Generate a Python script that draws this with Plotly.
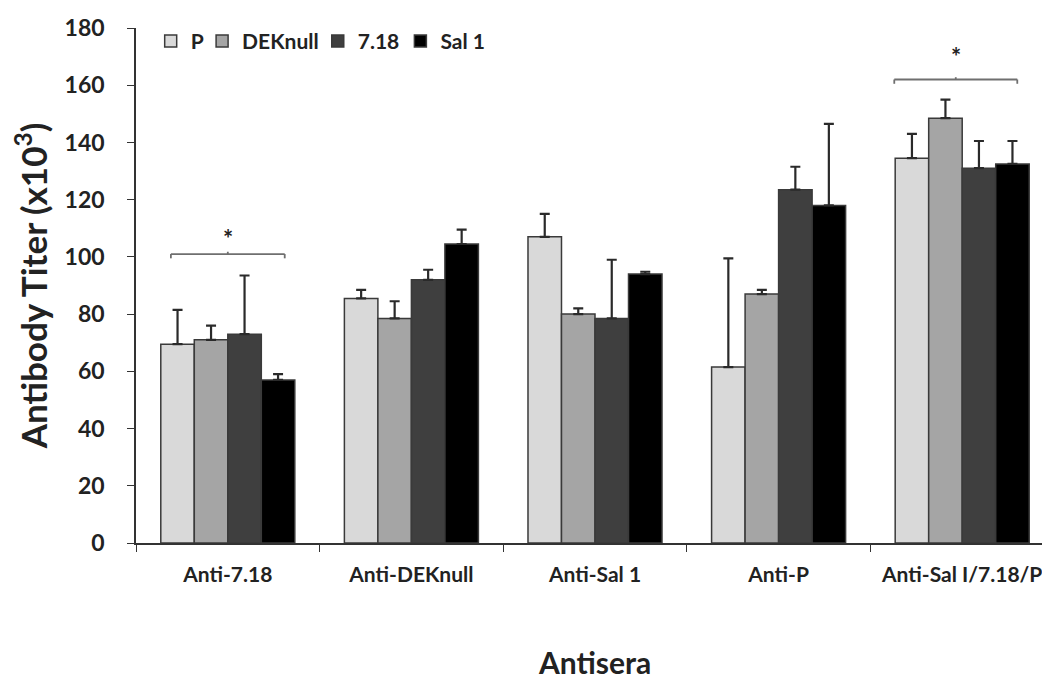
import plotly.graph_objects as go

categories = ["Anti-7.18", "Anti-DEKnull", "Anti-Sal 1", "Anti-P", "Anti-Sal I/7.18/P"]
series_names = ["P", "DEKnull", "7.18", "Sal 1"]
p_vals = [69.5, 85.5, 107, 61.5, 134.5]
p_err = [12, 3, 8, 38, 8.5]
dek_vals = [71, 78.5, 80, 87, 148.5]
dek_err = [5, 6, 2, 1.5, 6.5]
t718_vals = [73, 92, 78.5, 123.5, 131]
t718_err = [20.5, 3.5, 20.5, 8, 9.5]
sal_vals = [57, 104.5, 94, 118, 132.5]
sal_err = [2, 5, 0.8, 28.5, 8]
colors = ["#d9d9d9", "#a5a5a5", "#3f3f3f", "#000000"]

sig_groups = [0, 4]
sig_left = [-0.31, -0.37]
sig_right = [0.31, 0.30]
sig_y = [101, 162]
sig_star_y = [106.5, 170]

values = [p_vals, dek_vals, t718_vals, sal_vals]
errors = [p_err, dek_err, t718_err, sal_err]

font_family = "Lato, 'Open Sans', sans-serif"
legend_x = [0.016, 0.072, 0.198, 0.288]

fig = go.Figure()
for i, (name, vals, errs, col) in enumerate(zip(series_names, values, errors, colors)):
    fig.add_trace(go.Bar(
        name=name, x=categories, y=vals, showlegend=True,
        legend="legend" if i == 0 else f"legend{i + 1}",
        marker=dict(color=col, line=dict(color="#3a3a3a", width=1.5)),
        error_y=dict(type="data", symmetric=False, array=errs,
                     arrayminus=[0] * len(errs), color="#2a2a2a",
                     thickness=2.2, width=5),
    ))

shapes = []
annotations = []
for g, l, r, y, sy in zip(sig_groups, sig_left, sig_right, sig_y, sig_star_y):
    x0, x1 = g + l, g + r
    xm = (x0 + x1) / 2
    line = dict(color="#6f6f6f", width=1.8)
    shapes.append(dict(type="line", xref="x", yref="y", x0=x0, x1=x1, y0=y, y1=y, line=line))
    shapes.append(dict(type="line", xref="x", yref="y", x0=x0, x1=x0, y0=y, y1=y - 1.5, line=line))
    shapes.append(dict(type="line", xref="x", yref="y", x0=x1, x1=x1, y0=y, y1=y - 1.5, line=line))
    shapes.append(dict(type="line", xref="x", yref="y", x0=xm, x1=xm, y0=y, y1=y + 0.8, line=line))
    annotations.append(dict(x=xm, y=sy, xref="x", yref="y", text="<b>*</b>", showarrow=False,
                            font=dict(size=24, color="#222", family=font_family)))

legends = {}
for i, lx in enumerate(legend_x):
    key = "legend" if i == 0 else f"legend{i + 1}"
    legends[key] = dict(x=lx, y=0.974, xanchor="left", yanchor="middle",
                        orientation="h", itemwidth=30, visible=True,
                        font=dict(size=21, family=font_family, weight="bold"),
                        bgcolor="rgba(0,0,0,0)")

fig.update_layout(
    barmode="group", bargap=0.27, bargroupgap=0,
    width=1050, height=688, showlegend=True,
    margin=dict(l=128, r=4, t=20, b=153),
    plot_bgcolor="white", paper_bgcolor="white",
    font=dict(family=font_family, color="#222", size=20),
    shapes=shapes, annotations=annotations,
    xaxis=dict(
        showline=True, linecolor="#333", linewidth=1.5,
        ticks="outside", tickson="boundaries", ticklen=7, tickcolor="#333",
        ticklabelstandoff=12,
        tickfont=dict(size=21, family=font_family, weight="bold"),
        title=dict(text="Antisera", font=dict(size=30, family=font_family, weight="bold"), standoff=68),
        showgrid=False,
    ),
    yaxis=dict(
        range=[0, 180], dtick=20, showline=True, linecolor="#333", linewidth=1.5,
        ticks="outside", ticklen=7, tickcolor="#333", showgrid=False, zeroline=False,
        ticklabelstandoff=18,
        tickfont=dict(size=23, family=font_family, weight="bold"),
        title=dict(text="Antibody Titer (x10<sup>3</sup>)", font=dict(size=35, family=font_family, weight="bold"), standoff=20),
    ),
    **legends,
)

fig.write_html("out.html")
